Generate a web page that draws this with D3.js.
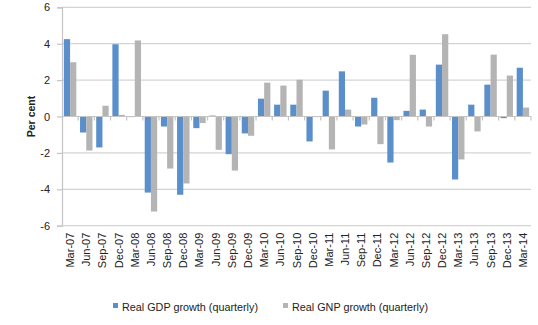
<!DOCTYPE html>
<html>
<head>
<meta charset="utf-8">
<script src="https://cdn.jsdelivr.net/npm/d3@7"></script>
<style>
  html, body { margin: 0; padding: 0; background: #fff; }
  svg { display: block; }
  text { font-family: "Liberation Sans", Arial, sans-serif; fill: #222; }
</style>
</head>
<body>
<svg id="chart" width="538" height="325"></svg>
<script>
// Quarter labels, March 2007 to March 2014
const quarters = [
  "Mar-07","Jun-07","Sep-07","Dec-07",
  "Mar-08","Jun-08","Sep-08","Dec-08",
  "Mar-09","Jun-09","Sep-09","Dec-09",
  "Mar-10","Jun-10","Sep-10","Dec-10",
  "Mar-11","Jun-11","Sep-11","Dec-11",
  "Mar-12","Jun-12","Sep-12","Dec-12",
  "Mar-13","Jun-13","Sep-13","Dec-13",
  "Mar-14"
];

// Real GDP growth, quarterly, per cent
const gdpGrowth = [
  4.25, -0.88, -1.70, 3.97,
  -0.02, -4.18, -0.55, -4.30,
  -0.64, 0.05, -2.07, -0.93,
  0.98, 0.65, 0.65, -1.37,
  1.42, 2.48, -0.55, 1.03,
  -2.53, 0.31, 0.38, 2.85,
  -3.46, 0.65, 1.75, -0.09,
  2.68
];

// Real GNP growth, quarterly, per cent
const gnpGrowth = [
  2.98, -1.87, 0.59, 0.09,
  4.18, -5.22, -2.86, -3.68,
  -0.36, -1.83, -2.97, -1.06,
  1.86, 1.70, 2.02, -0.03,
  -1.81, 0.38, -0.44, -1.52,
  -0.20, 3.39, -0.55, 4.52,
  -2.36, -0.82, 3.40, 2.25,
  0.49
];

const seriesNames = ["Real GDP growth (quarterly)", "Real GNP growth (quarterly)"];
const seriesColors = ["#5A8FCB", "#B4B4B4"];
const yTicks = [-6, -4, -2, 0, 2, 4, 6];

const svg = d3.select("#chart");
const plot = { left: 62, right: 531, top: 7.3, bottom: 225.7 };

const x0 = d3.scaleBand().domain(quarters).range([plot.left, plot.right]).padding(0);
const x1 = d3.scaleBand().domain([0, 1]).range([0, x0.bandwidth()]).paddingInner(0).paddingOuter(0.3);
const y = d3.scaleLinear().domain([-6, 6]).range([plot.bottom, plot.top]);

// Horizontal gridlines
svg.append("g").selectAll("line").data(yTicks.filter(t => t !== 0)).join("line")
  .attr("x1", plot.left).attr("x2", plot.right)
  .attr("y1", d => y(d)).attr("y2", d => y(d))
  .attr("stroke", "#d4d4d4").attr("stroke-width", 1.2);

// Value axis (left), plain hyphen for negatives
const yAxis = svg.append("g")
  .attr("transform", `translate(${plot.left},0)`)
  .call(d3.axisLeft(y).tickValues(yTicks).tickSize(5).tickPadding(7).tickFormat(d => String(d)));
yAxis.select(".domain").attr("stroke", "#c4c4c4").attr("stroke-width", 1.2);
yAxis.selectAll(".tick line").attr("stroke", "#c4c4c4").attr("stroke-width", 1.2);
yAxis.selectAll(".tick text").style("font-size", "11px").attr("fill", "#222");

// Bars
const series = [gdpGrowth, gnpGrowth];
series.forEach((vals, si) => {
  svg.append("g").selectAll("rect").data(vals).join("rect")
    .attr("x", (d, i) => x0(quarters[i]) + x1(si))
    .attr("width", x1.bandwidth())
    .attr("y", d => y(Math.max(0, d)))
    .attr("height", d => Math.max(0.6, Math.abs(y(d) - y(0))))
    .attr("fill", seriesColors[si]);
});

// Category axis along zero, ticks between quarters
const zero = svg.append("g");
zero.append("line")
  .attr("x1", plot.left).attr("x2", plot.right)
  .attr("y1", y(0)).attr("y2", y(0))
  .attr("stroke", "#c4c4c4").attr("stroke-width", 1.2);
const bounds = quarters.map(q => x0(q) + x0.bandwidth());
zero.selectAll("line.tk").data(bounds).join("line").attr("class", "tk")
  .attr("x1", d => d).attr("x2", d => d)
  .attr("y1", y(0)).attr("y2", y(0) + 4)
  .attr("stroke", "#c4c4c4").attr("stroke-width", 1.2);

// Quarter labels, rotated, below the plot
svg.append("g").selectAll("text").data(quarters).join("text")
  .attr("transform", d => `translate(${x0(d) + x0.bandwidth() / 2 + 4},${plot.bottom + 7}) rotate(-90)`)
  .attr("text-anchor", "end")
  .style("font-size", "11px")
  .text(d => d);

// Value axis title
svg.append("text")
  .attr("transform", `translate(35,${y(0)}) rotate(-90)`)
  .attr("text-anchor", "middle")
  .style("font-size", "10.5px")
  .style("font-weight", "bold")
  .text("Per cent");

// Legend
const legendX = [113, 283];
const legend = svg.append("g");
seriesNames.forEach((name, i) => {
  legend.append("rect")
    .attr("x", legendX[i]).attr("y", 303)
    .attr("width", 5).attr("height", 5)
    .attr("fill", seriesColors[i]);
  legend.append("text")
    .attr("x", legendX[i] + 9).attr("y", 310.5)
    .style("font-size", "10.8px")
    .text(name);
});
</script>
</body>
</html>
